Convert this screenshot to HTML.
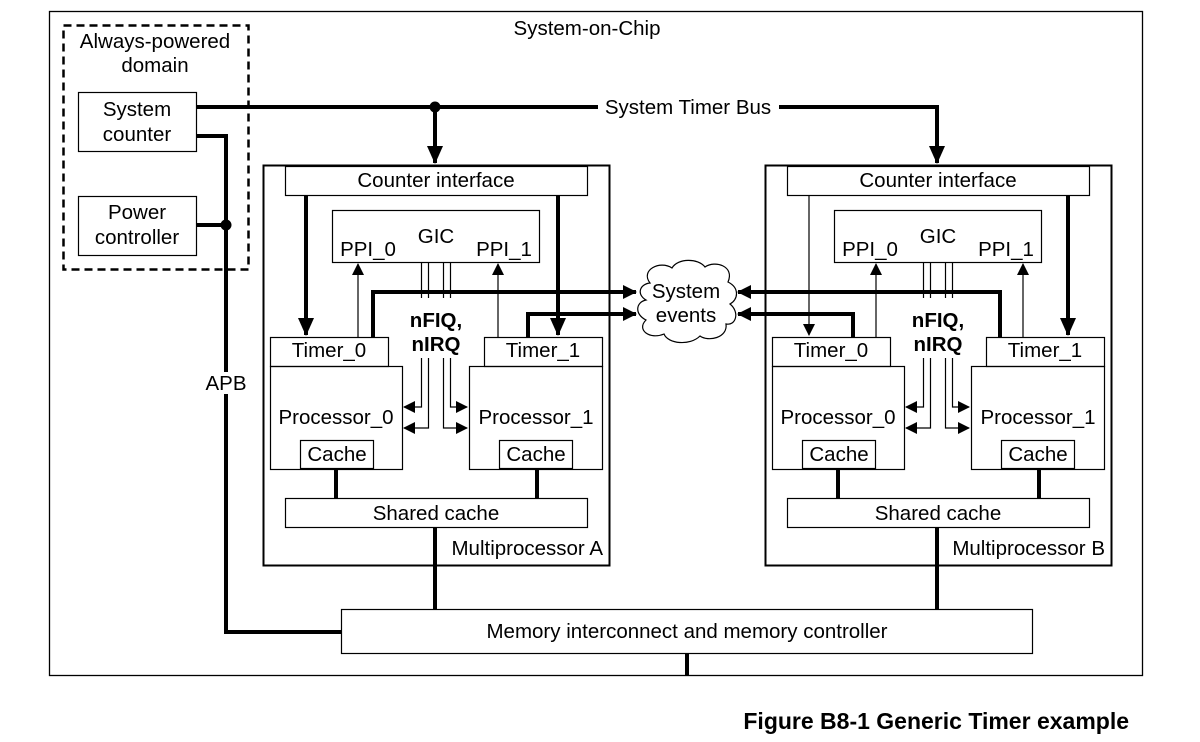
<!DOCTYPE html>
<html><head><meta charset="utf-8"><style>
html,body{margin:0;padding:0;background:#fff;}
svg{display:block;}
text{font-family:"Liberation Sans",Arial,sans-serif;font-size:20.5px;fill:#000;}
</style></head><body>
<svg width="1200" height="742" viewBox="0 0 1200 742" xmlns="http://www.w3.org/2000/svg">
<defs>
<marker id="ab" markerWidth="12" markerHeight="12" refX="11" refY="6" orient="auto" markerUnits="userSpaceOnUse" viewBox="0 0 12 12"><path d="M0,0 L12,6 L0,12 z" fill="#000"/></marker>
<marker id="abig" markerWidth="18" markerHeight="16" refX="17" refY="8" orient="auto" markerUnits="userSpaceOnUse" viewBox="0 0 18 16"><path d="M0,0 L18,8 L0,16 z" fill="#000"/></marker>
<marker id="asm" markerWidth="14" markerHeight="14" refX="13" refY="7" orient="auto" markerUnits="userSpaceOnUse" viewBox="0 0 14 14"><path d="M0,0 L14,7 L0,14 z" fill="#000"/></marker>
</defs>
<g fill="none" stroke="#000">
<rect x="49.5" y="11.5" width="1093" height="664" stroke-width="1.3"/>
<rect x="63.5" y="25.5" width="185" height="244" stroke-width="2.5" stroke-dasharray="8,5"/>
<rect x="78.5" y="92.5" width="118" height="59" stroke-width="1.2"/>
<rect x="78.5" y="196.5" width="118" height="59" stroke-width="1.2"/>
<path d="M196,107 H598 M779,107 H937 V163" stroke-width="4" marker-end="url(#abig)"/>
<path d="M435,107 V163" stroke-width="4" marker-end="url(#abig)"/>
<path d="M196,136 H226 V632 H342 M196,225 H226" stroke-width="4"/>
<rect x="200" y="372" width="52" height="22" fill="#fff" stroke="none"/>
<rect x="341.5" y="609.5" width="691" height="44" stroke-width="1.2"/>
<path d="M687,653 V676 M435,527 V609 M937,527 V609" stroke-width="4"/>
</g>
<circle cx="435" cy="107" r="5.5"/>
<circle cx="226" cy="225" r="5.5"/>

<g fill="none" stroke="#000" stroke-width="1.2">
<rect x="263.5" y="165.5" width="346" height="400" stroke-width="2"/>
<rect x="285.5" y="166.5" width="302" height="29" fill="#fff"/>
<rect x="332.5" y="210.5" width="207" height="52"/>
<rect x="270.5" y="337.5" width="118" height="29"/>
<rect x="270.5" y="366.5" width="132" height="103"/>
<rect x="300.5" y="440.5" width="73" height="28"/>
<rect x="484.5" y="337.5" width="118" height="29"/>
<rect x="469.5" y="366.5" width="133" height="103"/>
<rect x="499.5" y="440.5" width="73" height="28"/>
<rect x="285.5" y="498.5" width="302" height="29"/>
<path d="M336,469 V498 M537,469 V498" stroke-width="4"/>
<path d="M358,337 V264" marker-end="url(#ab)"/>
<path d="M498,337 V264" marker-end="url(#ab)"/>
<path d="M421.5,262 V298 M428.5,262 V298 M443.5,262 V298 M450.5,262 V298"/>
<path d="M421.5,358 V407 H404" marker-end="url(#ab)"/>
<path d="M428.5,358 V428 H404" marker-end="url(#ab)"/>
<path d="M443.5,358 V428 H467" marker-end="url(#ab)"/>
<path d="M450.5,358 V407 H467" marker-end="url(#ab)"/>
</g>
<g fill="none" stroke="#000" stroke-width="1.2" transform="translate(502,0)">
<rect x="263.5" y="165.5" width="346" height="400" stroke-width="2"/>
<rect x="285.5" y="166.5" width="302" height="29" fill="#fff"/>
<rect x="332.5" y="210.5" width="207" height="52"/>
<rect x="270.5" y="337.5" width="118" height="29"/>
<rect x="270.5" y="366.5" width="132" height="103"/>
<rect x="300.5" y="440.5" width="73" height="28"/>
<rect x="484.5" y="337.5" width="118" height="29"/>
<rect x="469.5" y="366.5" width="133" height="103"/>
<rect x="499.5" y="440.5" width="73" height="28"/>
<rect x="285.5" y="498.5" width="302" height="29"/>
<path d="M336,469 V498 M537,469 V498" stroke-width="4"/>
<path d="M374,337 V264" marker-end="url(#ab)"/>
<path d="M521,337 V264" marker-end="url(#ab)"/>
<path d="M421.5,262 V298 M428.5,262 V298 M443.5,262 V298 M450.5,262 V298"/>
<path d="M421.5,358 V407 H404" marker-end="url(#ab)"/>
<path d="M428.5,358 V428 H404" marker-end="url(#ab)"/>
<path d="M443.5,358 V428 H467" marker-end="url(#ab)"/>
<path d="M450.5,358 V407 H467" marker-end="url(#ab)"/>
</g>
<g fill="none" stroke="#000">
<path d="M306,195 V335" stroke-width="4" marker-end="url(#abig)"/>
<path d="M558,195 V335" stroke-width="4" marker-end="url(#abig)"/>
<path d="M809,195 V335" stroke-width="1.2" marker-end="url(#ab)"/>
<path d="M1068,195 V335" stroke-width="4" marker-end="url(#abig)"/>
<path d="M373,337 V292 H636" stroke-width="4" marker-end="url(#asm)"/>
<path d="M528,337 V314 H636" stroke-width="4" marker-end="url(#asm)"/>
<path d="M1000,337 V292 H738" stroke-width="4" marker-end="url(#asm)"/>
<path d="M853,337 V314 H738" stroke-width="4" marker-end="url(#asm)"/>
<path d="M650,283 C640,270 660,260 672,268 C678,258 698,258 705,267 C715,260 735,266 728,282 C740,288 738,300 730,304 C740,312 736,326 726,324 C728,338 708,342 700,336 C690,346 668,344 664,334 C650,340 636,330 646,320 C634,314 636,302 646,300 C636,294 640,284 650,283 Z" stroke-width="1.2" fill="#fff"/>
</g>
<g text-anchor="middle">
<text x="587" y="35">System-on-Chip</text>
<text x="155" y="48">Always-powered</text>
<text x="155" y="72">domain</text>
<text x="137" y="116">System</text>
<text x="137" y="141">counter</text>
<text x="137" y="219">Power</text>
<text x="137" y="244">controller</text>
<text x="688" y="114">System Timer Bus</text>
<text x="226" y="390">APB</text>
<text x="687" y="638">Memory interconnect and memory controller</text>
<text x="686" y="298">System</text>
<text x="686" y="322">events</text>
</g>
<g text-anchor="middle">
<text x="436" y="187">Counter interface</text>
<text x="436" y="243">GIC</text>
<text x="368" y="256">PPI_0</text>
<text x="504" y="256">PPI_1</text>
<text x="329" y="357">Timer_0</text>
<text x="543" y="357">Timer_1</text>
<text x="336" y="424">Processor_0</text>
<text x="536" y="424">Processor_1</text>
<text x="337" y="461">Cache</text>
<text x="536" y="461">Cache</text>
<text x="436" y="520">Shared cache</text>
<text x="436" y="327" font-weight="bold">nFIQ,</text>
<text x="436" y="351" font-weight="bold">nIRQ</text>
<text x="603" y="555" text-anchor="end">Multiprocessor A</text>
</g>
<g text-anchor="middle" transform="translate(502,0)">
<text x="436" y="187">Counter interface</text>
<text x="436" y="243">GIC</text>
<text x="368" y="256">PPI_0</text>
<text x="504" y="256">PPI_1</text>
<text x="329" y="357">Timer_0</text>
<text x="543" y="357">Timer_1</text>
<text x="336" y="424">Processor_0</text>
<text x="536" y="424">Processor_1</text>
<text x="337" y="461">Cache</text>
<text x="536" y="461">Cache</text>
<text x="436" y="520">Shared cache</text>
<text x="436" y="327" font-weight="bold">nFIQ,</text>
<text x="436" y="351" font-weight="bold">nIRQ</text>
<text x="603" y="555" text-anchor="end">Multiprocessor B</text>
</g>
<text x="1129" y="729" text-anchor="end" font-weight="bold" style="font-size:23px">Figure B8-1 Generic Timer example</text>
</svg>
</body></html>
